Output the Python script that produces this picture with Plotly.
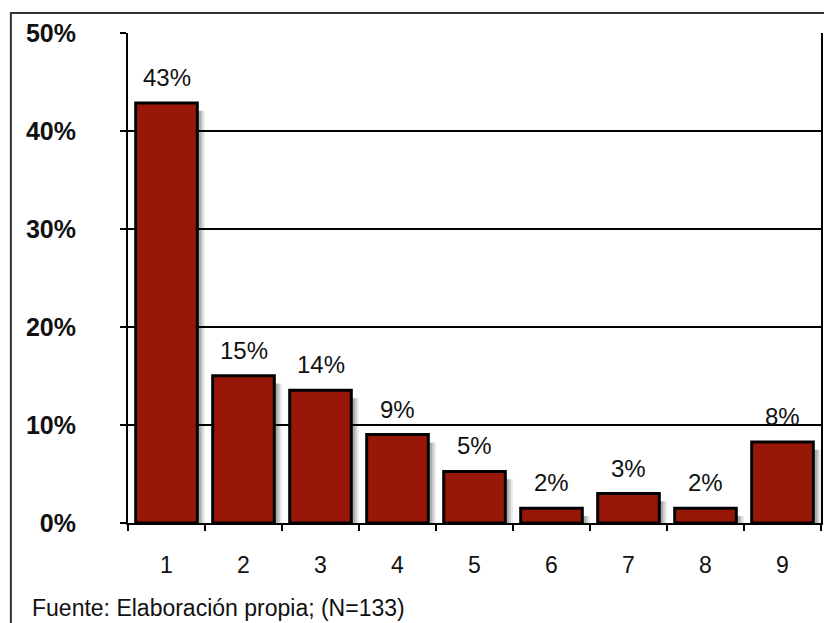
import plotly.graph_objects as go

# Survey responses per option (N = 133)
categories = ["1", "2", "3", "4", "5", "6", "7", "8", "9"]
counts = [57, 20, 18, 12, 7, 2, 4, 2, 11]
total = 133
shares = [c / total for c in counts]

y_ticks = [0, 0.1, 0.2, 0.3, 0.4, 0.5]
y_tick_labels = ["0%", "10%", "20%", "30%", "40%", "50%"]
source_note = "Fuente: Elaboración propia; (N=133)"

FONT = "Liberation Sans, Arial, Helvetica, sans-serif"
BAR_W = 0.8

fig = go.Figure()

# soft drop shadow built from a few translucent layers behind the bars
for dx, alpha in [(0.10, 0.08), (0.075, 0.12), (0.05, 0.16)]:
    fig.add_trace(go.Bar(
        x=categories, y=shares, width=BAR_W, offset=-BAR_W / 2 + dx,
        base=[-0.008] * len(shares),
        marker=dict(color=f"rgba(0,0,0,{alpha})", line=dict(width=0)),
        hoverinfo="skip", showlegend=False,
    ))

fig.add_trace(go.Bar(
    x=categories, y=shares, width=BAR_W, offset=-BAR_W / 2,
    marker=dict(color="#991708", line=dict(color="black", width=3)),
    showlegend=False,
))

# value labels above each bar (category axis positions are 0-based indices)
labels = [dict(
    x=i, y=s, text=f"{s:.0%}", xref="x", yref="y",
    xanchor="center", yanchor="bottom", yshift=10, showarrow=False,
    font=dict(family=FONT, size=24, color="#111"),
) for i, s in enumerate(shares)]

labels.append(dict(
    text=source_note, xref="paper", yref="paper",
    x=-0.142, y=-0.173, xanchor="left", yanchor="middle",
    showarrow=False, font=dict(family=FONT, size=23, color="#111"),
))

fig.update_layout(
    width=824, height=623,
    margin=dict(l=128, r=1, t=33, b=100),
    paper_bgcolor="white", plot_bgcolor="white",
    barmode="overlay",
    font=dict(family=FONT, color="#111"),
    xaxis=dict(
        type="category", tickson="boundaries", ticks="outside",
        ticklen=6, tickwidth=2, tickcolor="black",
        showline=True, linecolor="black", linewidth=2, mirror=False,
        showgrid=False, tickfont=dict(family=FONT, size=23, color="#111"),
        ticklabelstandoff=20, range=[-0.5, len(categories) - 0.5],
    ),
    yaxis=dict(
        range=[0, 0.5], tickvals=y_ticks, ticktext=y_tick_labels,
        ticks="outside", ticklen=6, tickwidth=2, tickcolor="black",
        showline=True, linecolor="black", linewidth=2, mirror=True,
        showgrid=True, gridcolor="black", gridwidth=2, zeroline=False,
        tickfont=dict(family=FONT, size=25, color="#111", weight="bold"),
        ticklabelstandoff=39,
    ),
    shapes=[dict(
        type="rect", xref="paper", yref="paper",
        x0=-0.169, x1=1.02, y0=-0.3, y1=1.041,
        line=dict(color="#333", width=2), fillcolor="rgba(0,0,0,0)",
        layer="below",
    )],
    annotations=labels,
)

fig.write_html("out.html")
